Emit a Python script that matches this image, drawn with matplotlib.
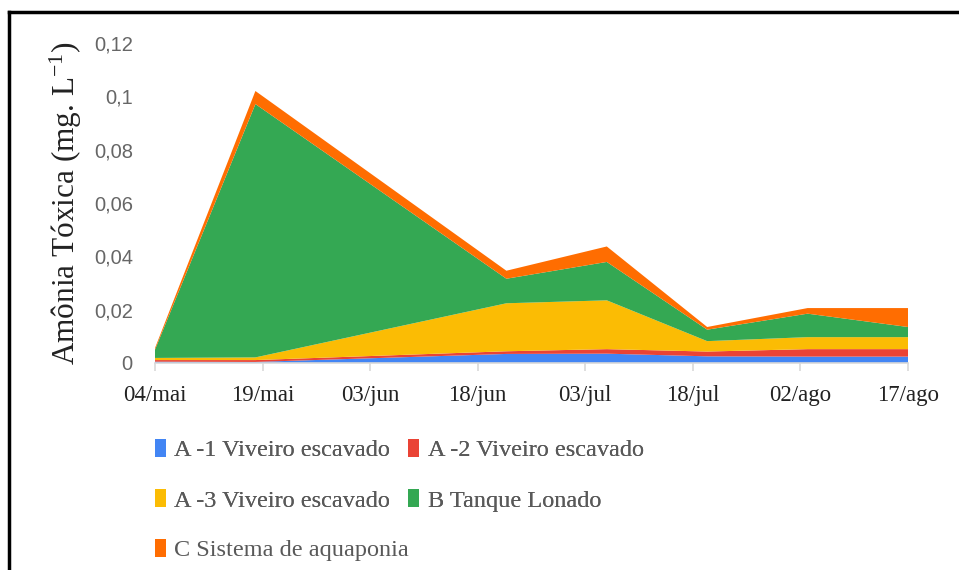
import pandas as pd
import numpy as np
import matplotlib.pyplot as plt
from matplotlib.lines import Line2D
from matplotlib.patches import Rectangle

# sampling dates and toxic ammonia per system (mg/L)
sample_dates = ["2019-05-04", "2019-05-18", "2019-06-22", "2019-07-06",
                "2019-07-20", "2019-08-03", "2019-08-17"]
a1_viveiro = [0.0005, 0.0004, 0.0034, 0.0035, 0.0025, 0.0024, 0.0024]
a2_viveiro = [0.0006, 0.0007, 0.0010, 0.0017, 0.0018, 0.0028, 0.0028]
a3_viveiro = [0.0008, 0.0010, 0.0180, 0.0183, 0.0039, 0.0045, 0.0045]
b_tanque = [0.0031, 0.0950, 0.0092, 0.0144, 0.0043, 0.0088, 0.0038]
c_aquaponia = [0.0006, 0.0049, 0.0030, 0.0058, 0.0010, 0.0021, 0.0071]

series_names = ["A -1 Viveiro escavado", "A -2 Viveiro escavado",
                "A -3 Viveiro escavado", "B Tanque Lonado",
                "C Sistema de aquaponia"]
colors = ["#4285F4", "#EA4335", "#FBBC04", "#34A853", "#FF6D01"]

tick_dates = ["2019-05-04", "2019-05-19", "2019-06-03", "2019-06-18",
              "2019-07-03", "2019-07-18", "2019-08-02", "2019-08-17"]
tick_labels = ["04/mai", "19/mai", "03/jun", "18/jun", "03/jul", "18/jul",
               "02/ago", "17/ago"]
y_ticks = [0, 0.02, 0.04, 0.06, 0.08, 0.1, 0.12]
y_tick_labels = ["0", "0,02", "0,04", "0,06", "0,08", "0,1", "0,12"]

plt.rcParams['mathtext.fontset'] = 'custom'
plt.rcParams['mathtext.rm'] = 'Liberation Serif'
plt.rcParams['mathtext.it'] = 'Liberation Serif:italic'

x = pd.to_datetime(sample_dates)
xt = pd.to_datetime(tick_dates)

fig = plt.figure(figsize=(9.59, 5.70), dpi=100)
ax = fig.add_axes([155/959, 1 - 363/570, (908 - 155)/959, (363 - 43)/570])

ax.stackplot(x, a1_viveiro, a2_viveiro, a3_viveiro, b_tanque, c_aquaponia,
             colors=colors, linewidth=0)

ax.set_xlim(xt[0], xt[-1])
ax.set_ylim(0, 0.12)
ax.set_xticks(xt)
ax.set_xticklabels(tick_labels, fontfamily="Liberation Serif", fontsize=16.5, color="#222222")
ax.set_yticks(y_ticks)
ax.set_yticklabels(y_tick_labels, fontfamily="Liberation Sans", fontsize=14.5, color="#666666")

ax.tick_params(axis="x", length=6, width=1.2, color="#d9d9d9", pad=10)
ax.tick_params(axis="y", length=0, pad=16)
for side in ["top", "right", "left"]:
    ax.spines[side].set_visible(False)
ax.spines["bottom"].set_color("#d9d9d9")
ax.spines["bottom"].set_linewidth(1.2)

ax.set_ylabel(r"Amônia Tóxica (mg. L$^{\mathregular{-1}}$)", fontfamily="Liberation Serif",
              fontsize=22.5, color="#222222")
ax.yaxis.set_label_coords(-0.094, 0.5)

# legend below the plot: first four entries in two columns, last one alone
leg_kw = dict(frameon=False, handlelength=0.45, handleheight=0.75,
              handletextpad=0.35, columnspacing=0.75, labelspacing=1.15,
              prop={"family": "Liberation Serif", "size": 17.5})
order = [0, 2, 1, 3]
handles = [Rectangle((0, 0), 1, 1, facecolor=colors[i], edgecolor="none") for i in order]
labels = [series_names[i] for i in order]
leg1 = fig.legend(handles, labels, loc="upper left", ncol=2,
                  bbox_to_anchor=(133/959, 1 - 417/570), **leg_kw)
leg2 = fig.legend([Rectangle((0, 0), 1, 1, facecolor=colors[4], edgecolor="none")],
                  [series_names[4]], loc="upper left",
                  bbox_to_anchor=(133/959, 1 - 517/570), **leg_kw)
fig.add_artist(leg1)
for leg in (leg1, leg2):
    for t in leg.get_texts():
        t.set_color("#595959")

# outer frame (top and left edges)
fig.add_artist(Line2D([9/959, 1], [1 - 12/570, 1 - 12/570], color="black", linewidth=2.5))
fig.add_artist(Line2D([9/959, 9/959], [0, 1 - 12/570], color="black", linewidth=2.5))

fig.savefig("out.png", dpi=100)
